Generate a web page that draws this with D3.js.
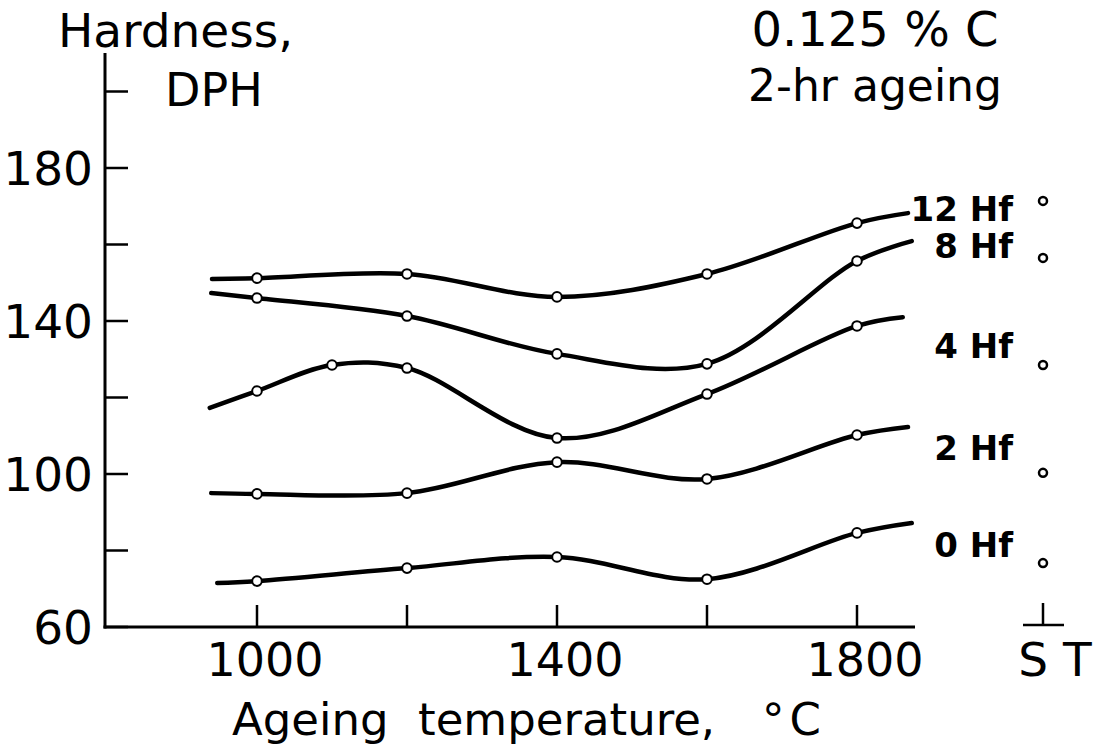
<!DOCTYPE html>
<html>
<head>
<meta charset="utf-8">
<script src="https://cdn.jsdelivr.net/npm/d3@7"></script>
<style>
    html, body { margin: 0; padding: 0; background: #fff; }
    svg text { font-family: "DejaVu Sans", sans-serif; fill: #000; }
</style>
</head>
<body>
<div id="chart"></div>
<script>

// measured hardness (DPH) against ageing temperature, 0.125 % C, 2-hr ageing
const temps = [1000, 1200, 1400, 1600, 1800];
const temps4Hf = [1000, 1100, 1200, 1400, 1600, 1800];

const hf0 = [72.0, 75.4, 78.3, 72.5, 84.6];
const hf2 = [94.8, 95.0, 103.1, 98.7, 110.2];
const hf4 = [121.7, 128.5, 127.7, 109.4, 120.9, 138.7];
const hf8 = [146.0, 141.3, 131.4, 128.8, 155.7];
const hf12 = [151.2, 152.3, 146.3, 152.3, 165.6];

const seriesNames = ["0 Hf", "2 Hf", "4 Hf", "8 Hf", "12 Hf"];

// where each drawn curve begins and ends [temp, hardness]
const curveStart = [[947, 71.5], [939, 95.0], [937, 117.3], [939, 147.3], [940, 151.0]];
const curveEnd = [[1873, 87.2], [1868, 112.3], [1861, 141.0], [1873, 160.9], [1868, 168.2]];

// solution treated (ST) hardness, one per series
const stValues = [76.7, 100.3, 128.5, 156.5, 171.4];
// hardness level the series label sits at
const labelAt = [81.7, 107.1, 133.7, 159.9, 169.5];

const yTicks = [60, 80, 100, 120, 140, 160, 180, 200];
const yTickLabels = [60, 100, 140, 180];
const xTicks = [1000, 1200, 1400, 1600, 1800];
const xTickLabels = [1000, 1400, 1800];

// the ST column is drawn on the temperature scale, right of the axis
const stPosition = 2048;


class HardnessChart {

    constructor(_parentElement) {
        this.parentElement = _parentElement;
        this.initVis();
    }

    initVis() {
        let vis = this;

        vis.width = 1093;
        vis.height = 747;

        vis.svg = d3.select("#" + vis.parentElement).append("svg")
            .attr("width", vis.width)
            .attr("height", vis.height);

        vis.x = d3.scaleLinear()
            .domain([1000, 1800])
            .range([257, 857]);

        vis.y = d3.scaleLinear()
            .domain([60, 180])
            .range([627, 168]);

        vis.axisLeft = 105;
        vis.axisRight = 915;

        vis.wrangleData();
    }

    wrangleData() {
        let vis = this;

        let allTemps = [temps, temps, temps4Hf, temps, temps];
        let allValues = [hf0, hf2, hf4, hf8, hf12];

        vis.displayData = seriesNames.map(function (name, i) {
            let points = allTemps[i].map(function (t, j) {
                return { t: t, v: allValues[i][j] };
            });
            let curve = [{ t: curveStart[i][0], v: curveStart[i][1] }]
                .concat(points)
                .concat([{ t: curveEnd[i][0], v: curveEnd[i][1] }]);
            return { name: name, points: points, curve: curve, st: stValues[i], labelAt: labelAt[i] };
        });

        vis.updateVis();
    }

    updateVis() {
        let vis = this;

        // y axis
        vis.svg.append("line")
            .attr("x1", vis.axisLeft).attr("x2", vis.axisLeft)
            .attr("y1", vis.y(60) + 1.5).attr("y2", 53)
            .attr("stroke", "#000").attr("stroke-width", 3);

        vis.svg.selectAll(".y-tick")
            .data(yTicks)
            .enter().append("line")
            .attr("class", "y-tick")
            .attr("x1", vis.axisLeft).attr("x2", vis.axisLeft + 23)
            .attr("y1", d => vis.y(d)).attr("y2", d => vis.y(d))
            .attr("stroke", "#000").attr("stroke-width", 2.5);

        vis.svg.selectAll(".y-label")
            .data(yTickLabels)
            .enter().append("text")
            .attr("class", "y-label")
            .attr("x", 93)
            .attr("y", d => vis.y(d) + 17)
            .attr("text-anchor", "end")
            .style("font-size", "47px")
            .text(d => d);

        // x axis
        vis.svg.append("line")
            .attr("x1", vis.axisLeft - 1.5).attr("x2", vis.axisRight)
            .attr("y1", vis.y(60)).attr("y2", vis.y(60))
            .attr("stroke", "#000").attr("stroke-width", 3);

        vis.svg.selectAll(".x-tick")
            .data(xTicks)
            .enter().append("line")
            .attr("class", "x-tick")
            .attr("x1", d => vis.x(d)).attr("x2", d => vis.x(d))
            .attr("y1", vis.y(60)).attr("y2", vis.y(60) - 22)
            .attr("stroke", "#000").attr("stroke-width", 2.5);

        vis.svg.selectAll(".x-label")
            .data(xTickLabels)
            .enter().append("text")
            .attr("class", "x-label")
            .attr("x", d => vis.x(d) + 8)
            .attr("y", 676)
            .attr("text-anchor", "middle")
            .style("font-size", "46px")
            .text(d => d);

        // ST column
        let stX = vis.x(stPosition);
        vis.svg.append("line")
            .attr("x1", stX).attr("x2", stX)
            .attr("y1", vis.y(60) - 2).attr("y2", vis.y(60) - 24)
            .attr("stroke", "#000").attr("stroke-width", 2.5);
        vis.svg.append("line")
            .attr("x1", stX - 20).attr("x2", stX + 21)
            .attr("y1", vis.y(60) - 2).attr("y2", vis.y(60) - 2)
            .attr("stroke", "#000").attr("stroke-width", 2.5);
        vis.svg.append("text")
            .attr("x", stX + 12)
            .attr("y", 676)
            .attr("text-anchor", "middle")
            .style("font-size", "47px")
            .text("S T");

        // titles
        vis.svg.append("text")
            .attr("x", 58).attr("y", 47)
            .style("font-size", "47px")
            .text("Hardness,");
        vis.svg.append("text")
            .attr("x", 165).attr("y", 106)
            .style("font-size", "46px")
            .text("DPH");
        vis.svg.append("text")
            .attr("x", 875).attr("y", 46)
            .attr("text-anchor", "middle")
            .style("font-size", "48px")
            .text("0.125 % C");
        vis.svg.append("text")
            .attr("x", 875).attr("y", 101)
            .attr("text-anchor", "middle")
            .style("font-size", "44px")
            .text("2-hr ageing");

        let xTitle = vis.svg.append("text")
            .attr("y", 735)
            .style("font-size", "45px");
        xTitle.append("tspan").attr("x", 232).text("Ageing");
        xTitle.append("tspan").attr("x", 418).text("temperature,");
        xTitle.append("tspan").attr("x", 762).style("letter-spacing", "5px").text("°C");

        // curves
        let line = d3.line()
            .x(d => vis.x(d.t))
            .y(d => vis.y(d.v))
            .curve(d3.curveCatmullRom.alpha(0.5));

        let groups = vis.svg.selectAll(".series")
            .data(vis.displayData)
            .enter().append("g")
            .attr("class", "series");

        groups.append("path")
            .attr("d", d => line(d.curve))
            .attr("fill", "none")
            .attr("stroke", "#000")
            .attr("stroke-width", 4.5)
            .attr("stroke-linecap", "round");

        groups.selectAll(".point")
            .data(d => d.points)
            .enter().append("circle")
            .attr("class", "point")
            .attr("cx", d => vis.x(d.t))
            .attr("cy", d => vis.y(d.v))
            .attr("r", 4.8)
            .attr("fill", "#fff")
            .attr("stroke", "#000")
            .attr("stroke-width", 2);

        groups.append("circle")
            .attr("cx", stX)
            .attr("cy", d => vis.y(d.st))
            .attr("r", 4)
            .attr("fill", "#fff")
            .attr("stroke", "#000")
            .attr("stroke-width", 2.5);

        groups.append("text")
            .attr("x", 1013)
            .attr("y", d => vis.y(d.labelAt) + 13)
            .attr("text-anchor", "end")
            .style("font-size", "34px")
            .style("font-weight", "bold")
            .text(d => d.name);
    }
}

new HardnessChart("chart");

</script>
</body>
</html>
